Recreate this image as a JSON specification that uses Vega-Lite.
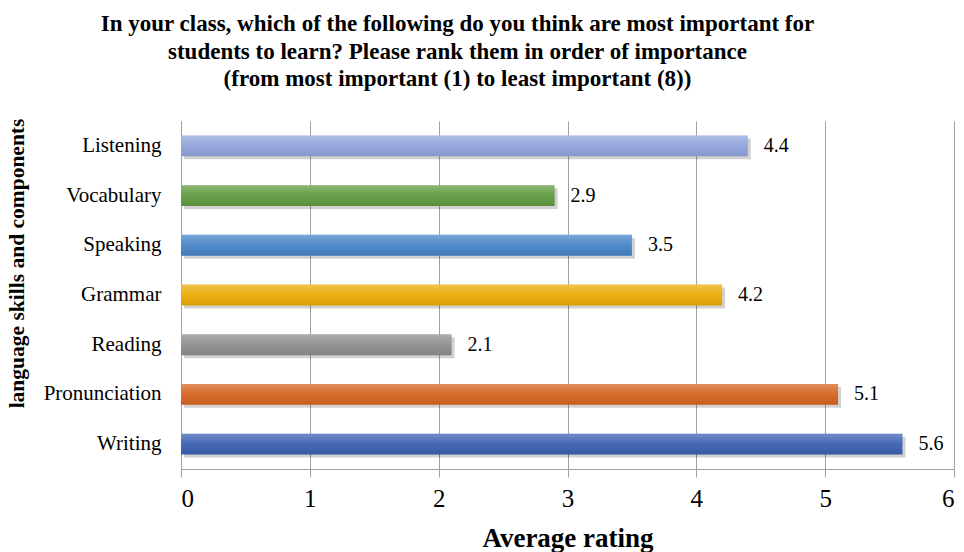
{
  "$schema": "https://vega.github.io/schema/vega-lite/v6.json",
  "width": 773,
  "height": 348,
  "autosize": {"type": "none"},
  "padding": {"left": 181, "top": 121, "right": 10, "bottom": 83},
  "background": "white",
  "title": {
    "text": [
      "In your class, which of the following do you think are most important for",
      "students to learn? Please rank them  in order of importance",
      "(from most important (1) to least important (8))"
    ],
    "font": "Liberation Serif",
    "fontSize": 23,
    "fontWeight": "bold",
    "color": "black",
    "lineHeight": 27.5,
    "anchor": "middle",
    "dx": -110,
    "offset": 27
  },
  "data": {
    "values": [
      {"skill": "Listening", "rating": 4.4, "color": "#8fa3da"},
      {"skill": "Vocabulary", "rating": 2.9, "color": "#5f9a3e"},
      {"skill": "Speaking", "rating": 3.5, "color": "#4584c6"},
      {"skill": "Grammar", "rating": 4.2, "color": "#e9aa05"},
      {"skill": "Reading", "rating": 2.1, "color": "#8d8d8d"},
      {"skill": "Pronunciation", "rating": 5.1, "color": "#d4631f"},
      {"skill": "Writing", "rating": 5.6, "color": "#3b60b2"}
    ]
  },
  "encoding": {
    "y": {
      "field": "skill",
      "type": "nominal",
      "sort": null,
      "scale": {"paddingInner": 0.58, "paddingOuter": 0.29},
      "axis": {
        "title": "language skills and components",
        "titleFont": "Liberation Serif",
        "titleFontSize": 21.5,
        "titleFontWeight": "bold",
        "titleColor": "black",
        "titleX": -153,
        "titleY": 142,
        "labelFont": "Liberation Serif",
        "labelFontSize": 21,
        "labelColor": "black",
        "labelPadding": 20,
        "ticks": false,
        "domainColor": "#a0a0a0",
        "grid": false
      }
    },
    "x": {
      "field": "rating",
      "type": "quantitative",
      "scale": {"domain": [0, 6], "nice": false},
      "axis": {
        "title": "Average rating",
        "titleFont": "Liberation Serif",
        "titleFontSize": 27,
        "titleFontWeight": "bold",
        "titleColor": "black",
        "titlePadding": 14,
        "values": [0, 1, 2, 3, 4, 5, 6],
        "format": "d",
        "labelFont": "Liberation Serif",
        "labelFontSize": 25,
        "labelColor": "black",
        "labelPadding": 9,
        "tickSize": 8,
        "tickColor": "#a0a0a0",
        "domainColor": "#a0a0a0",
        "grid": true,
        "gridColor": "#a0a0a0",
        "gridWidth": 1
      }
    }
  },
  "layer": [
    {
      "mark": {"type": "bar", "color": "#000000", "opacity": 0.18, "xOffset": 3, "yOffset": 3},
      "encoding": {}
    },
    {
      "mark": {"type": "bar"},
      "encoding": {"color": {"field": "color", "type": "nominal", "scale": null}}
    },
    {
      "mark": {
        "type": "bar",
        "fill": {
          "gradient": "linear",
          "x1": 0, "y1": 0, "x2": 0, "y2": 1,
          "stops": [
            {"offset": 0, "color": "rgba(255,255,255,0.28)"},
            {"offset": 0.5, "color": "rgba(255,255,255,0.05)"},
            {"offset": 1, "color": "rgba(0,0,0,0.08)"}
          ]
        }
      },
      "encoding": {}
    },
    {
      "mark": {
        "type": "text",
        "align": "left",
        "baseline": "middle",
        "dx": 16,
        "font": "Liberation Serif",
        "fontSize": 20,
        "color": "black"
      },
      "encoding": {"text": {"field": "rating", "type": "quantitative", "format": ".1f"}}
    }
  ],
  "config": {
    "font": "Liberation Serif",
    "title": {"font": "Liberation Serif"},
    "view": {"stroke": null}
  }
}
